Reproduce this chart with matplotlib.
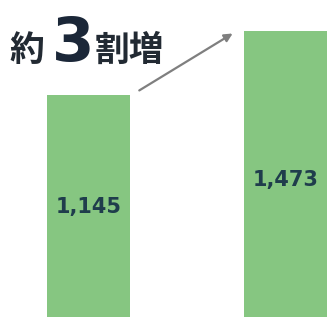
import matplotlib.pyplot as plt

plt.rcParams['font.family'] = ['Noto Sans CJK JP', 'DejaVu Sans']

categories = ['before', 'after']
values = [1145, 1473]
value_labels = ['1,145', '1,473']

bar_color = '#86c681'
label_color = '#1f3d4c'

fig = plt.figure(figsize=(3.27, 3.17), dpi=100)
ax = fig.add_axes([0, 0, 1, 1])

x = [0, 1]
ax.bar(x, values, width=0.42, color=bar_color)
ax.set_xlim(-0.449, 1.211)
ax.set_ylim(0, 1632)
ax.axis('off')

# value labels inside bars
ax.text(0, 565, value_labels[0], ha='center', va='center',
        fontsize=15, fontweight='bold', color=label_color, family='DejaVu Sans')
ax.text(1, 705, value_labels[1], ha='center', va='center',
        fontsize=15, fontweight='bold', color=label_color, family='DejaVu Sans')

# arrow from first bar toward second
ax.annotate('', xy=(0.744, 1467), xytext=(0.246, 1159),
            arrowprops=dict(arrowstyle='-|>', color='#7f7f7f', lw=1.6,
                            mutation_scale=12))

# headline
tc = '#222a33'
fig.text(0.028, 0.808, '約', fontsize=25, fontweight='bold', color=tc, va='baseline')
fig.text(0.158, 0.808, '3', fontsize=44, fontweight='bold', color='#1b2738',
         va='baseline', family='DejaVu Sans')
fig.text(0.288, 0.808, '割増', fontsize=25, fontweight='bold', color=tc, va='baseline')

fig.savefig('out.png', dpi=100)
